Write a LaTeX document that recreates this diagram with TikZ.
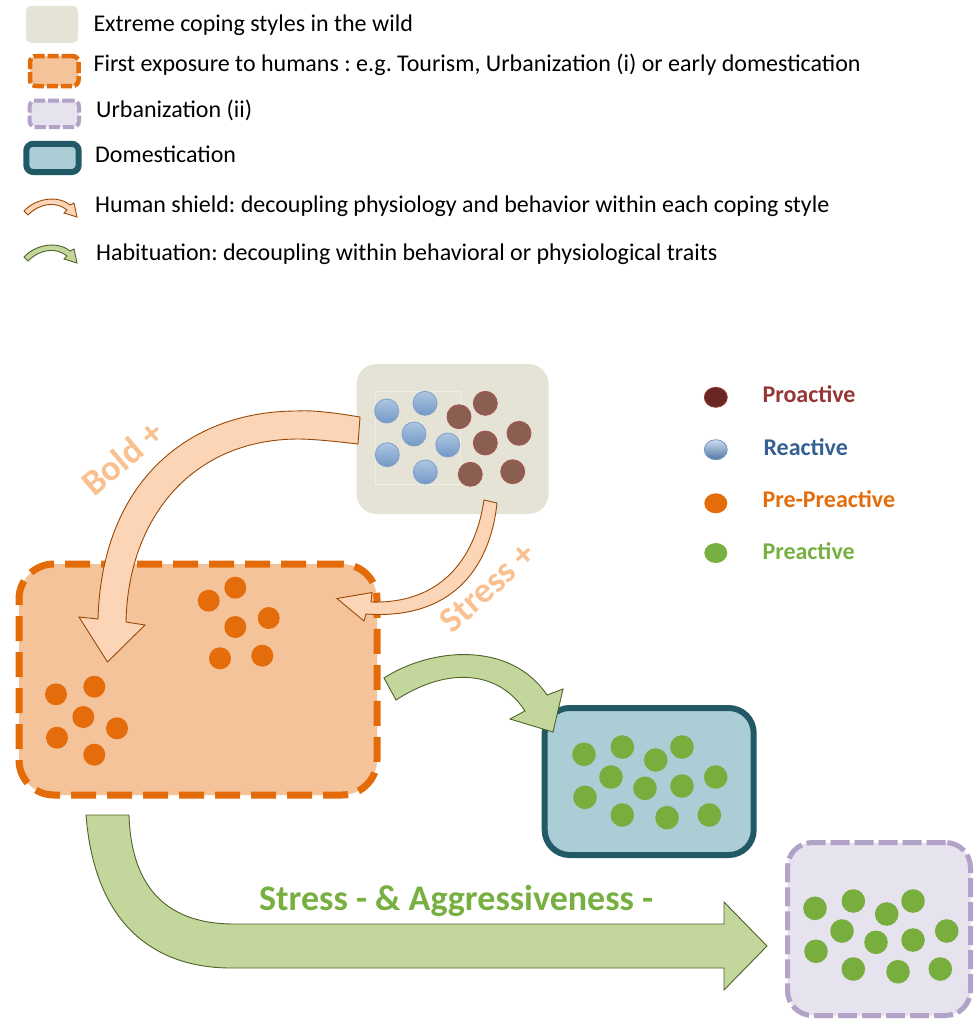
\documentclass[tikz,border=0pt]{standalone}
\usepackage{fontspec}
\setmainfont{Carlito}
\usepackage{tikz}
\usetikzlibrary{positioning, calc}
\frenchspacing

\definecolor{wildfill}{HTML}{E4E3D5}
\definecolor{wildline}{HTML}{EFEEE6}
\definecolor{firstfill}{HTML}{F4C39A}
\definecolor{firstline}{HTML}{E36C09}
\definecolor{urbanfill}{HTML}{E6E2EE}
\definecolor{urbanline}{HTML}{B3A2C7}
\definecolor{domfill}{HTML}{ABCDD6}
\definecolor{domline}{HTML}{215967}
\definecolor{shieldfill}{HTML}{FBD5B5}
\definecolor{shieldline}{HTML}{984807}
\definecolor{habitfill}{HTML}{C3D69B}
\definecolor{habitline}{HTML}{4F6228}
\definecolor{plusorange}{HTML}{FAC090}
\definecolor{greendot}{HTML}{78AE3D}
\definecolor{browndot}{HTML}{8B5E52}
\definecolor{brownline}{HTML}{A5554F}
\definecolor{bluetop}{HTML}{AEC6E2}
\definecolor{bluebottom}{HTML}{7398C6}
\definecolor{blueline}{HTML}{7E9FCA}
\definecolor{proactcol}{HTML}{953735}
\definecolor{reactcol}{HTML}{376092}
\definecolor{preprecol}{HTML}{E46C0A}
\definecolor{preactcol}{HTML}{77B041}

\tikzset{
    legtext/.style={anchor=base west, inner sep=0pt, font=\fontsize{24}{28}\selectfont},
    dottext/.style={anchor=base west, inner sep=0pt, font=\fontsize{24}{28}\selectfont\bfseries},
    plustext/.style={inner sep=0pt, text=plusorange, font=\fontsize{36}{40}\selectfont\bfseries},
    wildbox/.style={rectangle, fill=wildfill, inner sep=0pt},
    firstbox/.style={rectangle, fill=firstfill, draw=firstline, inner sep=0pt},
    urbanbox/.style={rectangle, fill=urbanfill, draw=urbanline, inner sep=0pt},
    dombox/.style={rectangle, fill=domfill, draw=domline, inner sep=0pt},
    shieldarrow/.style={fill=shieldfill, draw=shieldline, line width=0.9pt, line join=miter},
    habitarrow/.style={fill=habitfill, draw=habitline, line width=0.9pt, line join=miter},
    reactdot/.style={top color=bluetop, bottom color=bluebottom, draw=blueline, line width=0.8pt},
    prodot/.style={fill=browndot, draw=brownline, line width=0.8pt}
}

% small curved arrow of the legend
\newcommand{\legarrow}[2]{%
    \draw[#1, shift={(0,#2)}] (24,211) .. controls (36,198) and (58,195) .. (70,205)
        -- (74,203) -- (77,217) -- (64,213) -- (67,210)
        .. controls (56,201) and (40,203) .. (28,215) -- cycle;
}

\begin{document}
\begin{tikzpicture}[x=1pt, y=-1pt]
    \useasboundingbox (0,0) rectangle (979,1020);

    % legend
    \node[wildbox, minimum width=52pt, minimum height=37pt, rounded corners=5pt] (legwild) at (52,24.3) {};
    \node[firstbox, line width=4.5pt, dash pattern=on 11pt off 3pt, rounded corners=6pt,
        minimum width=48.5pt, minimum height=30pt] (legfirst) at (54.3,71) {};
    \node[urbanbox, line width=4pt, dash pattern=on 11pt off 3pt, rounded corners=6pt,
        minimum width=49.5pt, minimum height=26.5pt] (legurban) at (54.3,113.8) {};
    \node[dombox, line width=6pt, rounded corners=7pt,
        minimum width=52.4pt, minimum height=28.3pt] (legdom) at (52.5,157.9) {};
    \legarrow{shieldarrow}{0}
    \legarrow{habitarrow}{46}

    \node[legtext] (twild) at (93.3,31.7) {Extreme coping styles in the wild};
    \node[legtext] (tfirst) at (93.3,71) {First exposure to humans : e.g. Tourism, Urbanization (i) or early domestication};
    \node[legtext] (turban) at (96,117.3) {Urbanization (ii)};
    \node[legtext] (tdom) at (95,162.3) {Domestication};
    \node[legtext] (tshield) at (95,212.3) {Human shield: decoupling physiology and behavior within each coping style};
    \node[legtext] (thabit) at (96,260.7) {Habituation: decoupling within behavioral or physiological traits};

    % boxes
    \node[wildbox, rounded corners=20pt, minimum width=192pt, minimum height=150pt] (wild) at (452.5,439) {};
    \draw[wildline, line width=0.7pt] (375,391) rectangle (460,484);
    \node[firstbox, line width=7pt, dash pattern=on 25pt off 11pt, rounded corners=35pt,
        minimum width=358pt, minimum height=231pt] (first) at (198,679.5) {};
    \node[dombox, line width=6pt, rounded corners=25pt,
        minimum width=209pt, minimum height=147pt] (dom) at (649.2,781.5) {};
    \node[urbanbox, line width=5pt, dash pattern=on 19pt off 5pt, rounded corners=25pt,
        minimum width=183pt, minimum height=173pt] (urban) at (879,929) {};

    % reactive dots
    \foreach \x/\y in {386.7/411, 425/403.3, 414/434, 387.3/454.7, 447.7/445, 425.3/472}
    {
        \draw[reactdot] (\x,\y) circle (12pt);
    }
    % proactive dots
    \foreach \x/\y in {459/416.7, 485.3/403.3, 519/433.3, 485.3/443, 470.3/474.3, 512.7/471.7}
    {
        \draw[prodot] (\x,\y) circle (12pt);
    }
    % pre-preactive dots
    \foreach \x/\y in {208.7/600.7, 235.3/587.7, 268.7/618, 235.3/627, 220/658.3, 262.3/655.7,
        56/694.3, 94.3/686.7, 83.3/717, 57/737.7, 117/728.3, 94.3/754.7}
    {
        \fill[preprecol] (\x,\y) circle (11pt);
    }
    % preactive dots
    \foreach \dx/\dy in {0/0, 231/154}
    {
        \foreach \x/\y in {584/754.3, 622.3/747, 655.7/760, 682/747, 611/777, 645/788.3,
            682/786, 715.7/777, 585/797.3, 622.3/815, 667/817.7, 709.3/815}
        {
            \fill[greendot] (\x+\dx,\y+\dy) circle (11.8pt);
        }
    }

    % arrows
    \draw[shieldarrow] (360,417) .. controls (330,412) and (310,410) .. (297,411)
        .. controls (190,411) and (102,480) .. (98,619)
        -- (79,617) -- (107.5,662) -- (145,625) -- (126,622)
        .. controls (128,520) and (190,440) .. (297,439)
        .. controls (315,439) and (340,442) .. (358,444) -- cycle;
    \draw[shieldarrow] (484,500) -- (497,503) .. controls (490,570) and (450,620) .. (366,614)
        -- (364,621) -- (337,598.5) -- (372,592.5) -- (371,602)
        .. controls (440,604) and (475,560) .. (484,500) -- cycle;
    \draw[habitarrow] (384,678) .. controls (430,648) and (510,640) .. (547,695)
        -- (563,689) -- (553,732) -- (510,719) -- (525,711)
        .. controls (500,672) and (450,665) .. (396,700) -- cycle;
    \draw[habitarrow] (86,815) -- (129,815) .. controls (131,880) and (160,924) .. (234,924)
        -- (724,924) -- (724,902) -- (767,946) -- (724,990) -- (724,968) -- (231,968)
        .. controls (160,968) and (95,930) .. (86,815) -- cycle;

    \node[plustext, rotate=40] (tbold) at (122,458) {Bold +};
    \node[plustext, rotate=42] (tstress) at (487.5,587.5) {Stress +};
    \node[anchor=base west, inner sep=0pt, text=preactcol, font=\fontsize{36}{40}\selectfont\bfseries]
        (taggr) at (259,910.7) {Stress - \& Aggressiveness -};

    % coping styles
    \draw[fill=proactcol!70!black, draw=proactcol, line width=0.8pt] (715.8,397.3) ellipse (11.5pt and 10pt);
    \draw[top color=bluetop!60!white, bottom color=reactcol!60!bluebottom, draw=bluebottom, line width=0.8pt]
        (715.8,449.7) ellipse (11.5pt and 10pt);
    \fill[preprecol] (715.8,503.3) ellipse (11.5pt and 10pt);
    \fill[preactcol] (715.8,553) ellipse (11.5pt and 10pt);
    \node[dottext, text=proactcol] (lpro) at (762.3,402.3) {Proactive};
    \node[dottext, text=reactcol] (lreact) at (763.3,455) {Reactive};
    \node[dottext, text=preprecol] (lprepre) at (762.3,507.3) {Pre-Preactive};
    \node[dottext, text=preactcol] (lpre) at (762.3,559.3) {Preactive};
\end{tikzpicture}
\end{document}
